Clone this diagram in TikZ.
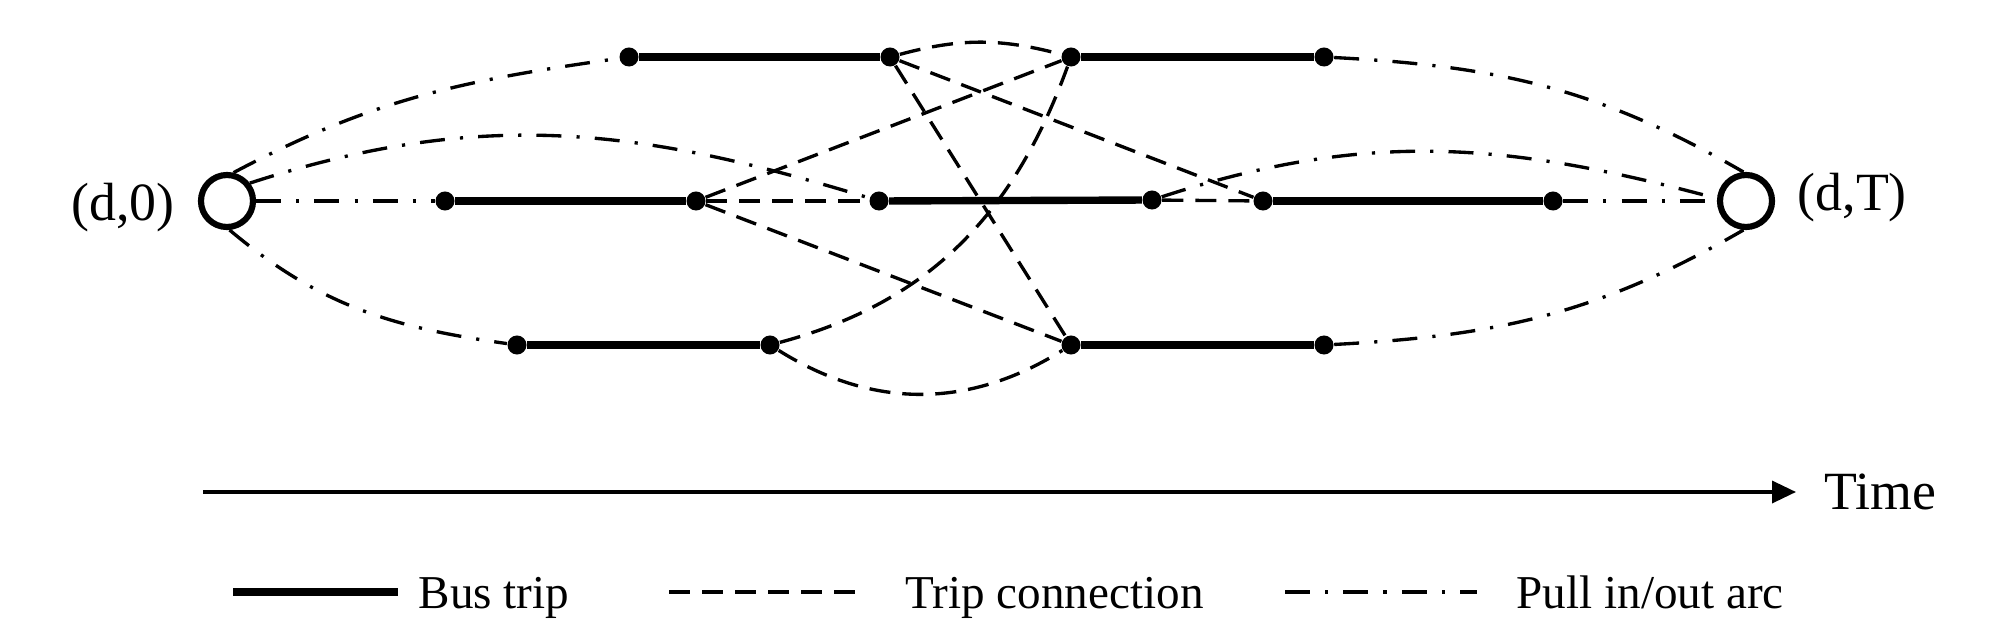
\documentclass[tikz,border=0pt]{standalone}
\usepackage{fontspec}
\setmainfont{Liberation Serif}
\usetikzlibrary{arrows.meta}
\begin{document}
\begin{tikzpicture}[x=0.01cm,y=0.01cm,
  dotnode/.style={circle,fill=black,inner sep=0pt,minimum size=0.19cm},
  depot/.style={circle,draw=black,line width=1.75pt,fill=white,inner sep=0pt,minimum size=0.52cm},
  trip/.style={line width=2.1pt},
  conn/.style={line width=0.95pt,dash pattern=on 6pt off 3.4pt},
  pull/.style={line width=0.95pt,dash pattern=on 7.1pt off 4.3pt on 0.9pt off 4.3pt},
  lbl/.style={font=\fontsize{15.3}{18}\selectfont,inner sep=0pt},
  leg/.style={font=\fontsize{13.4}{16}\selectfont,inner sep=0pt,anchor=base west}]
\useasboundingbox (0,0) rectangle (2000,636);
% depots
\node[depot] (O) at (227,435) {};
\node[depot] (D) at (1746,435) {};
\node[lbl,anchor=base east] (lO) at (175,415) {(d,0)};
\node[lbl,anchor=base west] (lD) at (1797,425) {(d,T)};
% trip end points
\node[dotnode] (A1) at (629,579) {};
\node[dotnode] (A2) at (890,579) {};
\node[dotnode] (B1) at (1071,579) {};
\node[dotnode] (B2) at (1324,579) {};
\node[dotnode] (M1) at (445,435) {};
\node[dotnode] (M2) at (696,435) {};
\node[dotnode] (N1) at (879,435) {};
\node[dotnode] (N2) at (1152,436) {};
\node[dotnode] (P1) at (1263,435) {};
\node[dotnode] (P2) at (1553,435) {};
\node[dotnode] (L1) at (517,291) {};
\node[dotnode] (L2) at (770,291) {};
\node[dotnode] (R1) at (1071,291) {};
\node[dotnode] (R2) at (1324,291) {};
% pull in/out arcs
\draw[pull] (O.77) to[out=28,in=188] (A1);
\draw[pull] (O.38) to[out=18,in=163] (N1);
\draw[pull] (O) -- (M1);
\draw[pull] (O.275) to[out=-40,in=172] (L1);
\draw[pull] (B2) to[out=-3,in=150] (D.95);
\draw[pull] (N2) to[out=18,in=165] (D.175);
\draw[pull] (P2) -- (D);
\draw[pull] (R2) to[out=3,in=210] (D.265);
% trip connections
\draw[conn] (A2) to[out=15,in=165] (B1);
\draw[conn] (A2) -- (R1);
\draw[conn] (A2) -- (P1);
\draw[conn] (M2) -- (B1);
\draw[conn] (M2) -- (N1);
\draw[conn] (M2) -- (R1);
\draw[conn] (L2) to[out=15,in=-110] (B1);
\draw[conn] (L2) to[out=-32,in=212] (R1);
\draw[conn] (N2) -- (P1);
% bus trips
\draw[trip] (A1) -- (A2);
\draw[trip] (B1) -- (B2);
\draw[trip] (M1) -- (M2);
\draw[trip] (N1) -- (N2);
\draw[trip] (P1) -- (P2);
\draw[trip] (L1) -- (L2);
\draw[trip] (R1) -- (R2);
% time axis
\coordinate (t0) at (203,144);
\coordinate (t1) at (1796,144);
\draw[line width=1pt,-{Triangle[length=0.24cm,width=0.22cm]}] (t0) -- (t1);
\node[lbl,anchor=base west] (time) at (1824,127) {Time};
% legend
\coordinate (a0) at (233,44); \coordinate (a1) at (398,44);
\coordinate (b0) at (669,44); \coordinate (b1) at (858,44);
\coordinate (c0) at (1285,44); \coordinate (c1) at (1477,44);
\draw[trip] (a0) -- (a1);
\draw[conn] (b0) -- (b1);
\draw[pull] (c0) -- (c1);
\node[leg] (lg1) at (418,28) {Bus trip};
\node[leg] (lg2) at (905,28) {Trip connection};
\node[leg] (lg3) at (1516,28) {Pull in/out arc};
\end{tikzpicture}
\end{document}
